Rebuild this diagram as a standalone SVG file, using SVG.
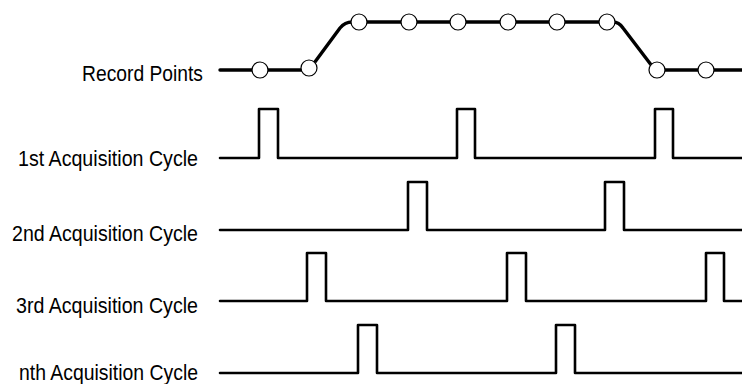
<svg xmlns="http://www.w3.org/2000/svg" width="742" height="384" viewBox="0 0 742 384">
<style>
.lbl{font-family:"Liberation Sans",Arial,sans-serif;font-size:21.5px;fill:#000;text-anchor:end}
.sig{fill:none;stroke:#000;stroke-width:2.6;stroke-linejoin:round;stroke-linecap:round}
.rec{fill:none;stroke:#000;stroke-width:3.4;stroke-linejoin:round;stroke-linecap:round}
.pt{fill:#fff;stroke:#000;stroke-width:1.2}
</style>
<rect width="742" height="384" fill="#fff"/>
<g id="labels">
<text class="lbl" x="203" y="81" textLength="121" lengthAdjust="spacingAndGlyphs">Record Points</text>
<text class="lbl" x="198" y="166" textLength="180" lengthAdjust="spacingAndGlyphs">1st Acquisition Cycle</text>
<text class="lbl" x="198" y="241" textLength="186" lengthAdjust="spacingAndGlyphs">2nd Acquisition Cycle</text>
<text class="lbl" x="198" y="313" textLength="182" lengthAdjust="spacingAndGlyphs">3rd Acquisition Cycle</text>
<text class="lbl" x="198" y="380" textLength="179" lengthAdjust="spacingAndGlyphs">nth Acquisition Cycle</text>
</g>
<g id="connectors">
<path id="record" class="rec" d="M220,70 H309 L340,28 Q345,22 352,22 H613 Q619,22 623,28 L655,70 H744"/>
<path id="cycle1" class="sig" d="M220,158 H259 V109 H278 V158 H457 V109 H475 V158 H655 V109 H673 V158 H744"/>
<path id="cycle2" class="sig" d="M220,230 H408 V182 H427 V230 H605 V182 H624 V230 H744"/>
<path id="cycle3" class="sig" d="M220,301 H307 V253 H326 V301 H507 V253 H526 V301 H706 V253 H724 V301 H744"/>
<path id="cyclen" class="sig" d="M220,373 H358 V325 H377 V373 H556 V325 H575 V373 H744"/>
</g>
<g id="points">
<circle class="pt" cx="260" cy="70" r="8"/>
<circle class="pt" cx="309" cy="68" r="8"/>
<circle class="pt" cx="359" cy="22" r="8"/>
<circle class="pt" cx="409" cy="22" r="8"/>
<circle class="pt" cx="458" cy="22" r="8"/>
<circle class="pt" cx="508" cy="22" r="8"/>
<circle class="pt" cx="557" cy="22" r="8"/>
<circle class="pt" cx="607" cy="22" r="8"/>
<circle class="pt" cx="657" cy="70" r="8"/>
<circle class="pt" cx="706" cy="70" r="8"/>
</g>
</svg>
